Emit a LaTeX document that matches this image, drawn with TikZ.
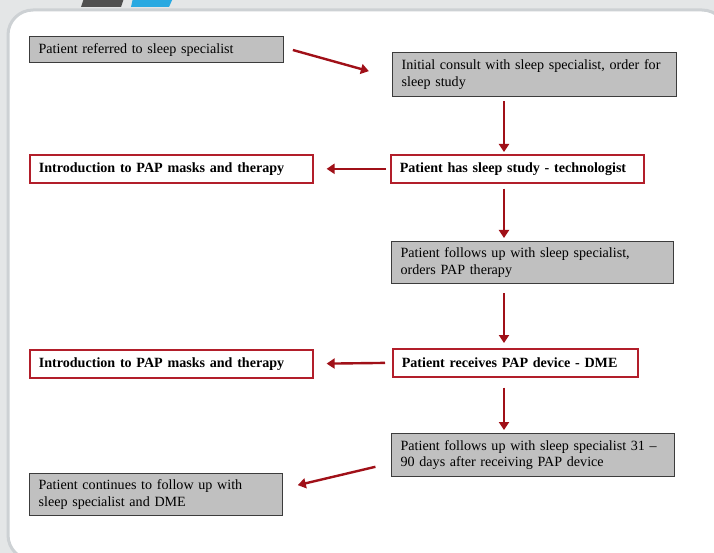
\documentclass[tikz,border=0pt]{standalone}
\usepackage{fontspec}
\setmainfont{Liberation Serif}
\usetikzlibrary{arrows.meta}
\definecolor{slidegray}{RGB}{228,230,231}
\definecolor{frameline}{RGB}{205,209,212}
\definecolor{boxgray}{RGB}{192,192,192}
\definecolor{boxline}{RGB}{60,60,60}
\definecolor{stepred}{RGB}{178,30,42}
\definecolor{arrowred}{RGB}{160,16,24}
\definecolor{tabdark}{RGB}{80,80,80}
\definecolor{tabblue}{RGB}{41,169,225}
\tikzset{
  x=1pt, y=-1pt, % one unit is one pixel of the slide, y grows downwards
  every node/.style={font=\fontsize{14.1}{16.7}\selectfont},
  gray step/.style={rectangle, draw=boxline, fill=boxgray, line width=1.2pt, anchor=north west, align=left, inner xsep=9pt, inner ysep=0pt}, % plain steps
  red step/.style={rectangle, draw=stepred, fill=white, line width=1.6pt, anchor=north west, align=left, inner xsep=9pt, inner ysep=0pt, font=\fontsize{14.1}{16.7}\selectfont\bfseries}, % education steps
  flow/.style={color=arrowred, line width=2.4pt, -{Triangle[length=8pt,width=10pt]}} % the red connectors
}

\begin{document}
\begin{tikzpicture}

    \useasboundingbox (0,0) rectangle (714,553);
    \fill[slidegray] (0,0) rectangle (714,553);
    \draw[frameline, line width=3pt, fill=white, rounded corners=25pt] (8,10) rectangle (727,560);
    \fill[tabdark] (81,7) -- (121,7) -- (124,-2) -- (84,-2) -- cycle;
    \fill[tabblue] (131,7) -- (169,7) -- (173,-2) -- (133,-2) -- cycle;

    \node[gray step, text width=236pt, minimum height=26pt] at (29,36) (referred) {Patient referred to sleep specialist};
    \node[gray step, text width=266pt, minimum height=44pt] at (392,52) (consult) {Initial consult with sleep specialist, order for\\sleep study};

    \node[red step, text width=265pt, minimum height=28pt] at (29,154) (intro_first) {Introduction to PAP masks and therapy};
    \node[red step, text width=235pt, minimum height=28pt] at (390,154) (sleep_study) {Patient has sleep study - technologist};

    \node[gray step, text width=264pt, minimum height=42pt] at (391,241) (follow_up) {Patient follows up with sleep specialist,\\orders PAP therapy};

    \node[red step, text width=265pt, minimum height=28pt] at (29,349) (intro_second) {Introduction to PAP masks and therapy};
    \node[red step, text width=227pt, minimum height=28pt] at (392,348) (device) {Patient receives PAP device - DME};

    \node[gray step, text width=265pt, minimum height=43pt] at (391,433) (follow_up_late) {Patient follows up with sleep specialist 31 --\\90 days after receiving PAP device};
    \node[gray step, text width=235pt, minimum height=42pt] at (29,473) (continue_care) {Patient continues to follow up with\\sleep specialist and DME};

    \draw
      ([yshift=2pt]referred.east) edge[flow, shorten <=9pt, shorten >=24pt] ([yshift=-3pt]consult.west)
      ([xshift=112pt]consult.south west) edge[flow, shorten <=4pt, shorten >=2pt] ([xshift=114pt]sleep_study.north west)
      (sleep_study.west) edge[flow, shorten <=4pt, shorten >=13pt] (intro_first.east)
      ([xshift=114pt]sleep_study.south west) edge[flow, shorten <=5pt, shorten >=3pt] ([xshift=113pt]follow_up.north west)
      ([xshift=113pt]follow_up.south west) edge[flow, shorten <=9pt, shorten >=5pt] ([xshift=112pt]device.north west)
      (device.west) edge[flow, shorten <=7pt, shorten >=13pt] (intro_second.east)
      ([xshift=112pt]device.south west) edge[flow, shorten <=10pt, shorten >=3pt] ([xshift=113pt]follow_up_late.north west)
      ([yshift=-8pt]follow_up_late.west) edge[flow, shorten <=16pt, shorten >=15pt] ([yshift=6pt]continue_care.east)
      ;
  \end{tikzpicture}
\end{document}
